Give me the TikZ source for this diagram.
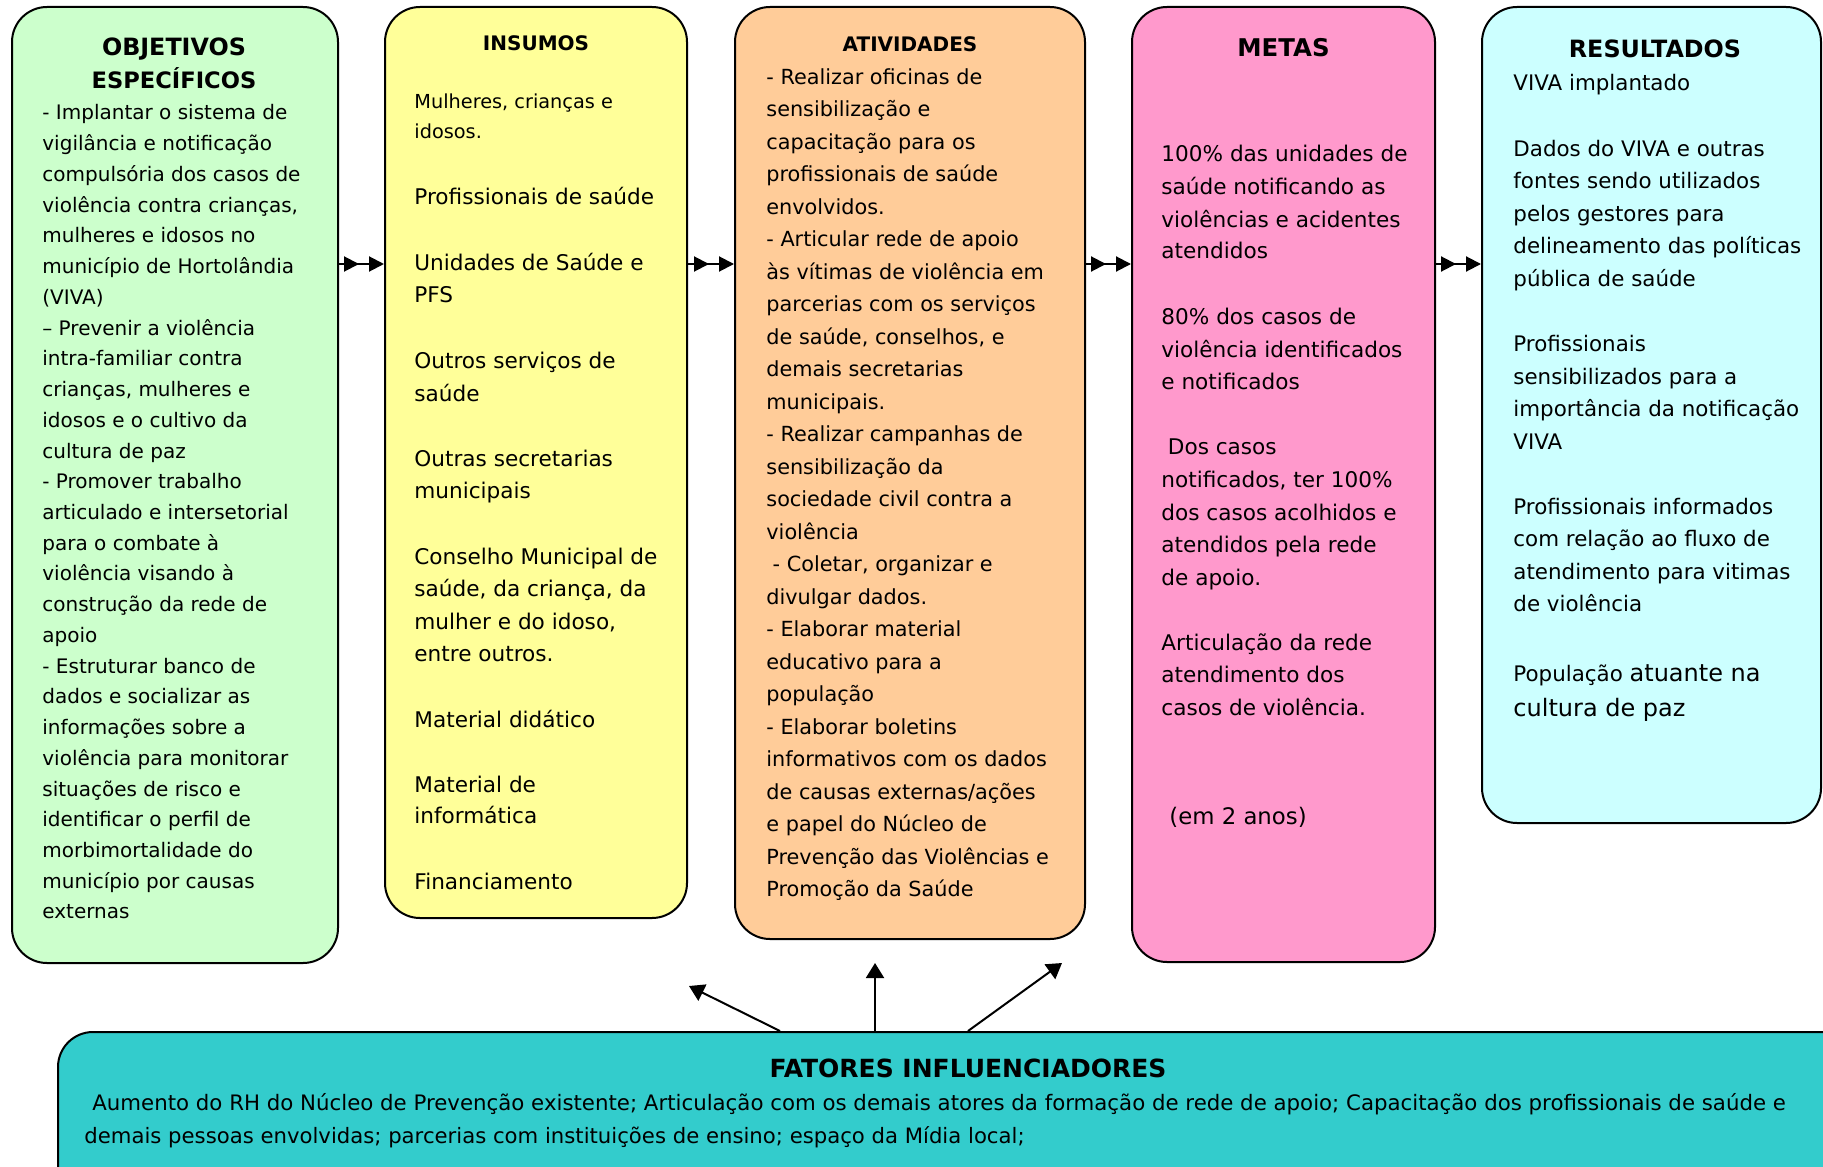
\documentclass[tikz,border=0pt]{standalone}
\usepackage{fontspec}
\setmainfont{DejaVu Sans}
\usetikzlibrary{arrows.meta,fit}
\definecolor{cgreen}{HTML}{CCFFCC}
\definecolor{cyellow}{HTML}{FFFF99}
\definecolor{corange}{HTML}{FFCC99}
\definecolor{cpink}{HTML}{FF99CC}
\definecolor{ccyan}{HTML}{CCFFFF}
\definecolor{cteal}{HTML}{33CCCC}
\begin{document}
\begin{tikzpicture}[x=0.5pt,y=-0.5pt,
  box/.style={draw, line width=1pt, rounded corners=17.5pt, inner sep=0pt},
  ttl/.style={anchor=base, inner sep=0pt, font=\bfseries\fontsize{11.9}{14}\selectfont},
  ttls/.style={anchor=base, inner sep=0pt, font=\bfseries\fontsize{10}{12}\selectfont},
  bt/.style={anchor=base west, inner sep=0pt, yshift=-1.25pt, font=\fontsize{10.3}{12}\selectfont},
  arr/.style={line width=1pt, -{Triangle[length=7.5pt,width=7.5pt]}},
  uparr/.style={line width=1pt, -{Triangle[length=7.5pt,width=9pt]}},
]
\useasboundingbox (0,0) rectangle (1823,1166);

% boxes
\node[box, fill=cgreen,  fit={(12,7)(338,963)}] (b1) {};
\node[box, fill=cyellow, fit={(385,7)(687,918)}] (b2) {};
\node[box, fill=corange, fit={(735,7)(1085,939)}] (b3) {};
\node[box, fill=cpink,   fit={(1132,7)(1435,962)}] (b4) {};
\node[box, fill=ccyan,   fit={(1482,7)(1821,823)}] (b5) {};
\node[box, fill=cteal,   fit={(58,1032)(1860,1230)}] (bb) {};

% box 1
\node[ttl] (t1a) at (174,56) {OBJETIVOS};
\node[ttl, font=\bfseries\fontsize{11.3}{14}\selectfont] (t1b) at (174,89) {ESPECÍFICOS};
\foreach \t [count=\i] in {
  {- Implantar o sistema de},
  {vigilância e notificação},
  {compulsória dos casos de},
  {violência contra crianças,},
  {mulheres e idosos no},
  {município de Hortolândia},
  {(VIVA)},
  {– Prevenir a violência},
  {intra-familiar contra},
  {crianças, mulheres e},
  {idosos e o cultivo da},
  {cultura de paz},
  {- Promover trabalho},
  {articulado e intersetorial},
  {para o combate à},
  {violência visando à},
  {construção da rede de},
  {apoio},
  {- Estruturar banco de},
  {dados e socializar as},
  {informações sobre a},
  {violência para monitorar},
  {situações de risco e},
  {identificar o perfil de},
  {morbimortalidade do},
  {município por causas},
  {externas}}
  \node[bt, font=\fontsize{10}{12}\selectfont] (o\i) at (42,{117.5+(\i-1)*30.73}) {\t};

% box 2
\node[ttls] (t2) at (536,51) {INSUMOS};
\node[bt, font=\fontsize{9.65}{12}\selectfont] (i1) at (414,106.5) {Mulheres, crianças e};
\node[bt, font=\fontsize{9.65}{12}\selectfont] (i2) at (414,136.5) {idosos.};
\foreach \yy/\t [count=\i] in {
  202.5/{Profissionais de saúde},
  267.6/{Unidades de Saúde e},
  300/{PFS},
  366/{Outros serviços de},
  399/{saúde},
  464/{Outras secretarias},
  495.5/{municipais},
  561.7/{Conselho Municipal de},
  594/{saúde, da criança, da},
  627/{mulher e do idoso,},
  659/{entre outros.},
  724.5/{Material didático},
  789.6/{Material de},
  821/{informática},
  887/{Financiamento}}
  \node[bt, font=\fontsize{10.8}{12}\selectfont] (n\i) at (414,\yy) {\t};

% box 3
\node[ttls] (t3) at (910,52) {ATIVIDADES};
\foreach \t [count=\i] in {
  {- Realizar oficinas de},
  {sensibilização e},
  {capacitação para os},
  {profissionais de saúde},
  {envolvidos.},
  {- Articular rede de apoio},
  {às vítimas de violência em},
  {parcerias com os serviços},
  {de saúde, conselhos, e},
  {demais secretarias},
  {municipais.},
  {- Realizar campanhas de},
  {sensibilização da},
  {sociedade civil contra a},
  {violência},
  {\hspace{0.3em}- Coletar, organizar e},
  {divulgar dados.},
  {- Elaborar material},
  {educativo para a},
  {população},
  {- Elaborar boletins},
  {informativos com os dados},
  {de causas externas/ações},
  {e papel do Núcleo de},
  {Prevenção das Violências e},
  {Promoção da Saúde}}
  \node[bt, font=\fontsize{10.4}{12}\selectfont] (a\i) at (766,{82+(\i-1)*32.48}) {\t};

% box 4
\node[ttl, font=\bfseries\fontsize{12.2}{14}\selectfont] (t4) at (1283.5,56.6) {METAS};
\foreach \yy/\t [count=\i] in {
  159.5/{100\% das unidades de},
  192/{saúde notificando as},
  224.6/{violências e acidentes},
  256/{atendidos},
  322/{80\% dos casos de},
  354.8/{violência identificados},
  387/{e notificados},
  452.4/{\hspace{0.3em}Dos casos},
  485/{notificados, ter 100\%},
  517.5/{dos casos acolhidos e},
  550/{atendidos pela rede},
  582.7/{de apoio.},
  647.8/{Articulação da rede},
  680/{atendimento dos},
  713/{casos de violência.}}
  \node[bt, font=\fontsize{10.8}{12}\selectfont] (m\i) at (1161,\yy) {\t};
\node[bt, font=\fontsize{11.4}{14}\selectfont] (m16) at (1169,822) {(em 2 anos)};

% box 5
\node[ttl] (t5) at (1655,57.5) {RESULTADOS};
\foreach \yy/\t [count=\i] in {
  88.5/{VIVA implantado},
  153.6/{Dados do VIVA e outras},
  186/{fontes sendo utilizados},
  218.8/{pelos gestores para},
  251.3/{delineamento das políticas},
  283.9/{pública de saúde},
  349/{Profissionais},
  381.5/{sensibilizados para a},
  414/{importância da notificação},
  446.6/{VIVA},
  511.7/{Profissionais informados},
  544.3/{com relação ao fluxo de},
  576.8/{atendimento para vitimas},
  609.4/{de violência}}
  \node[bt, font=\fontsize{10.7}{12}\selectfont] (r\i) at (1513,\yy) {\t};
\node[bt, font=\fontsize{10.7}{12}\selectfont] (r15) at (1513,679) {População {\fontsize{12}{14}\selectfont atuante na}};
\node[bt, font=\fontsize{12}{14}\selectfont] (r16) at (1513,714) {cultura de paz};

% bottom box
\node[ttl, font=\bfseries\fontsize{12.5}{14}\selectfont] (tb) at (968,1077) {FATORES INFLUENCIADORES};
\node[bt, font=\fontsize{10.65}{12}\selectfont] (fb1) at (92,1108) {Aumento do RH do Núcleo de Prevenção existente; Articulação com os demais atores da formação de rede de apoio; Capacitação dos profissionais de saúde e};
\node[bt, font=\fontsize{10.6}{12}\selectfont] (fb2) at (84,1141) {demais pessoas envolvidas; parcerias com instituições de ensino; espaço da Mídia local;};

% double arrows between boxes
\coordinate (ay) at (0,264);
\foreach \p/\q in {b1/b2,b2/b3,b3/b4,b4/b5} {
  \draw[arr] (\p.east |- ay) -- (\q.west |- ay);
  \draw[arr] (\p.east |- ay) -- ([xshift=-12.5pt]\q.west |- ay);
}

% arrows from bottom box
\coordinate (s1) at (780,0);
\coordinate (s2) at (875,0);
\coordinate (s3) at (968,0);
\coordinate (e1) at (689,986);
\coordinate (e2) at (875,963);
\coordinate (e3) at (1062,963);
\draw[uparr] (s1 |- bb.north) -- (e1);
\draw[uparr] (s2 |- bb.north) -- (e2);
\draw[uparr] (s3 |- bb.north) -- (e3);
\end{tikzpicture}
\end{document}
